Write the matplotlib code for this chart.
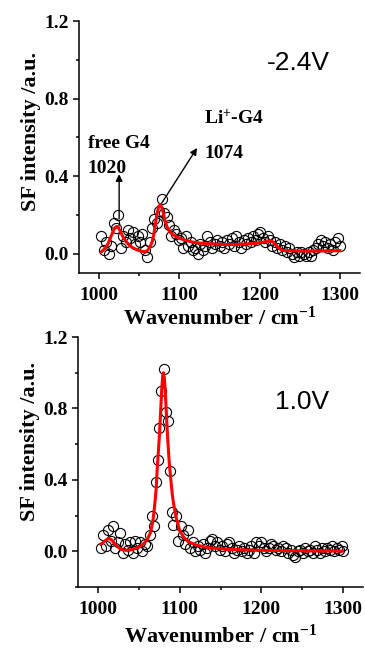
import matplotlib
matplotlib.use("Agg")
import matplotlib.pyplot as plt
from matplotlib.ticker import MultipleLocator

plt.rcParams['font.family'] = ['Liberation Serif', 'DejaVu Serif']
plt.rcParams['font.weight'] = 'bold'
plt.rcParams['mathtext.fontset'] = 'custom'
plt.rcParams['mathtext.rm'] = 'Liberation Serif:bold'
plt.rcParams['mathtext.bf'] = 'Liberation Serif:bold'
plt.rcParams['mathtext.default'] = 'bf'

# -2.4 V spectrum: measured points
neg_x = [1003, 1006, 1009, 1012, 1015, 1018, 1021, 1024, 1027, 1030,
         1033, 1036, 1039, 1042, 1045, 1048, 1051, 1054, 1057, 1060,
         1063, 1066, 1069, 1072, 1075, 1078, 1081, 1084, 1087, 1090,
         1093, 1096, 1099, 1102, 1105, 1108, 1111, 1114, 1117, 1120,
         1123, 1126, 1129, 1132, 1135, 1138, 1141, 1144, 1147, 1150,
         1153, 1156, 1159, 1162, 1165, 1168, 1171, 1174, 1177, 1180,
         1183, 1186, 1189, 1192, 1195, 1198, 1201, 1204, 1207, 1210,
         1213, 1216, 1219, 1222, 1225, 1228, 1231, 1234, 1237, 1240,
         1243, 1246, 1249, 1252, 1255, 1258, 1261, 1264, 1267, 1270,
         1273, 1276, 1279, 1282, 1285, 1288, 1291, 1294, 1297, 1300]
neg_y = [0.09, 0.02, 0.06, 0.00, 0.04, 0.16, 0.13, 0.20, 0.03, 0.09,
         0.06, 0.12, 0.08, 0.11, 0.05, 0.09, 0.06, 0.10, 0.02, -0.02,
         0.06, 0.13, 0.18, 0.16, 0.22, 0.28, 0.21, 0.19, 0.15, 0.09,
         0.12, 0.10, 0.07, 0.08, 0.03, 0.09, 0.04, 0.06, 0.02, 0.03,
         0.00, 0.05, 0.02, 0.04, 0.09, 0.06, 0.03, 0.05, 0.07, 0.04,
         0.06, 0.03, 0.07, 0.05, 0.08, 0.04, 0.09, 0.06, 0.03, 0.07,
         0.05, 0.08, 0.06, 0.09, 0.07, 0.10, 0.11, 0.08, 0.06, 0.09,
         0.07, 0.04, 0.06, 0.03, 0.05, 0.02, 0.04, 0.01, 0.03, 0.00,
         -0.02, 0.01, -0.01, 0.01, 0.00, -0.01, 0.01, -0.01, 0.02, 0.03,
         0.05, 0.07, 0.04, 0.06, 0.03, 0.05, 0.02, 0.06, 0.08, 0.04]

# -2.4 V fitted curve
neg_fit_x = [1003, 1007, 1011, 1015, 1018, 1020, 1022, 1024, 1027, 1030,
             1034, 1038, 1043, 1048, 1053, 1057, 1060, 1063, 1066, 1068,
             1070, 1072, 1074, 1076, 1078, 1080, 1082, 1085, 1088, 1092,
             1096, 1101, 1108, 1116, 1126, 1140, 1155, 1170, 1185, 1195,
             1203, 1209, 1213, 1216, 1219, 1222, 1226, 1230, 1240, 1260,
             1280, 1300]
neg_fit_y = [0.010, 0.025, 0.050, 0.090, 0.120, 0.135, 0.140, 0.135, 0.110, 0.085,
             0.060, 0.042, 0.028, 0.018, 0.012, 0.010, 0.015, 0.030, 0.060, 0.095,
             0.150, 0.200, 0.240, 0.253, 0.240, 0.210, 0.170, 0.135, 0.114, 0.098,
             0.088, 0.078, 0.068, 0.060, 0.054, 0.050, 0.047, 0.047, 0.050, 0.054,
             0.058, 0.064, 0.066, 0.062, 0.050, 0.035, 0.022, 0.016, 0.014, 0.013,
             0.014, 0.015]

# 1.0 V spectrum: measured points
pos_x = [1003, 1006, 1009, 1012, 1015, 1018, 1021, 1024, 1027, 1030,
         1033, 1036, 1039, 1042, 1045, 1048, 1051, 1054, 1057, 1060,
         1063, 1066, 1068, 1071, 1073, 1075, 1077, 1080, 1083, 1086,
         1088, 1090, 1092, 1095, 1098, 1101, 1104, 1107, 1110, 1113,
         1116, 1119, 1122, 1125, 1128, 1131, 1134, 1137, 1140, 1143,
         1146, 1149, 1152, 1155, 1158, 1161, 1164, 1167, 1170, 1173,
         1176, 1179, 1182, 1185, 1188, 1191, 1194, 1197, 1200, 1203,
         1206, 1209, 1212, 1215, 1218, 1221, 1224, 1227, 1230, 1233,
         1236, 1239, 1242, 1245, 1248, 1251, 1254, 1257, 1260, 1263,
         1266, 1269, 1272, 1275, 1278, 1281, 1284, 1287, 1290, 1293,
         1296, 1299, 1301]
pos_y = [0.02, 0.09, 0.03, 0.12, 0.06, 0.14, 0.02, 0.05, 0.10, -0.01,
         0.04, 0.01, 0.05, -0.01, 0.06, 0.02, 0.05, 0.00, 0.04, 0.03,
         0.09, 0.20, 0.14, 0.39, 0.51, 0.69, 0.90, 1.02, 0.78, 0.73,
         0.45, 0.22, 0.15, 0.20, 0.06, 0.14, 0.09, 0.04, 0.12, 0.02,
         0.05, 0.00, 0.03, 0.01, 0.04, -0.01, 0.02, 0.06, 0.07, 0.03,
         0.05, 0.01, 0.03, 0.00, 0.04, 0.05, 0.02, -0.01, 0.01, 0.03,
         0.00, 0.02, -0.01, 0.01, 0.03, -0.01, 0.05, 0.03, 0.05, 0.02,
         0.00, 0.02, 0.04, 0.03, 0.01, 0.02, 0.00, 0.03, 0.02, -0.01,
         0.01, -0.02, -0.03, 0.00, 0.01, -0.01, 0.02, 0.00, 0.01, -0.01,
         0.03, 0.01, -0.01, 0.02, 0.00, 0.02, 0.01, 0.03, 0.00, 0.02,
         0.01, 0.03, 0.00]

# 1.0 V fitted curve
pos_fit_x = [1003, 1006, 1010, 1013, 1016, 1020, 1025, 1030, 1035, 1040,
             1045, 1050, 1055, 1060, 1064, 1067, 1069, 1071, 1072, 1074,
             1075, 1076, 1077, 1078, 1079, 1080, 1081, 1082, 1083, 1084,
             1085, 1087, 1089, 1091, 1093, 1096, 1100, 1105, 1110, 1120,
             1135, 1155, 1180, 1220, 1260, 1300]
pos_fit_y = [0.040, 0.050, 0.065, 0.072, 0.065, 0.042, 0.020, 0.008, 0.005, 0.008,
             0.015, 0.025, 0.040, 0.065, 0.105, 0.170, 0.250, 0.350, 0.440, 0.580,
             0.650, 0.740, 0.830, 0.920, 0.980, 1.000, 0.970, 0.910, 0.820, 0.730,
             0.640, 0.500, 0.400, 0.310, 0.250, 0.180, 0.115, 0.078, 0.055, 0.035,
             0.020, 0.012, 0.007, 0.004, 0.002, 0.001]

fig = plt.figure(figsize=(3.65, 6.48), dpi=100)
ax1 = fig.add_axes([79 / 365, 1 - 273 / 648, 281 / 365, 252 / 648])
ax2 = fig.add_axes([78 / 365, 1 - 587 / 648, 285 / 365, 250 / 648])


def style_axis(ax, ylow, label_y, xlab_y):
    ax.set_xlim(975, 1325)
    ax.set_ylim(ylow, 1.2)
    ax.spines['top'].set_visible(False)
    ax.spines['right'].set_visible(False)
    for s in ('left', 'bottom'):
        ax.spines[s].set_linewidth(1.1)
    ax.xaxis.set_major_locator(MultipleLocator(100))
    ax.xaxis.set_minor_locator(MultipleLocator(50))
    ax.yaxis.set_major_locator(MultipleLocator(0.4))
    ax.yaxis.set_minor_locator(MultipleLocator(0.2))
    ax.tick_params(which='major', direction='out', length=4.5, width=1.1,
                   labelsize=14)
    ax.tick_params(axis='x', which='major', pad=5.5)
    ax.tick_params(axis='y', which='major', pad=3)
    ax.tick_params(which='minor', direction='out', length=2.2, width=1.1)
    ax.set_yticks([0.0, 0.4, 0.8, 1.2])
    ax.set_yticklabels(['0.0', '0.4', '0.8', '1.2'])
    for lab in ax.get_xticklabels() + ax.get_yticklabels():
        lab.set_fontweight('bold')
    ax.set_ylabel('SF intensity /a.u.', fontsize=16, fontweight='bold')
    ax.set_xlabel('Wavenumber / cm$^{-1}$', fontsize=16, fontweight='bold')
    ax.yaxis.set_label_coords(-0.135, label_y)
    ax.xaxis.set_label_coords(0.5, xlab_y)


# top panel
ax1.plot(neg_x, neg_y, 'o', ms=7.3, mfc='none', mec='black', mew=0.8)
ax1.plot(neg_fit_x, neg_fit_y, '-', color='red', lw=2.2)
style_axis(ax1, -0.1, 0.56, -0.132)
ax1.text(0.67, 0.833, '-2.4V', transform=ax1.transAxes, fontsize=19,
         family='Liberation Sans', fontweight='normal', va='center')
ax1.text(986, 0.566, 'free G4', fontsize=14, fontweight='bold', va='center')
ax1.text(986, 0.44, '1020', fontsize=14, fontweight='bold', va='center')
ax1.text(1131, 0.696, 'Li$^{+}$-G4', fontsize=14, fontweight='bold', va='center')
ax1.text(1131, 0.514, '1074', fontsize=14, fontweight='bold', va='center')
ax1.annotate('', xy=(1025, 0.41), xytext=(1025, 0.18),
             arrowprops=dict(arrowstyle='-|>', color='black', lw=1.0,
                             mutation_scale=10, shrinkA=0, shrinkB=0))
ax1.annotate('', xy=(1122, 0.545), xytext=(1078, 0.26),
             arrowprops=dict(arrowstyle='-|>', color='black', lw=1.0,
                             mutation_scale=10, shrinkA=0, shrinkB=0))

# bottom panel
ax2.plot(pos_x, pos_y, 'o', ms=7.3, mfc='none', mec='black', mew=0.8)
ax2.plot(pos_fit_x, pos_fit_y, '-', color='red', lw=2.2)
style_axis(ax2, -0.2, 0.584, -0.152)
ax2.text(0.69, 0.74, '1.0V', transform=ax2.transAxes, fontsize=19,
         family='Liberation Sans', fontweight='normal', va='center')

fig.savefig('out.png', dpi=100)
